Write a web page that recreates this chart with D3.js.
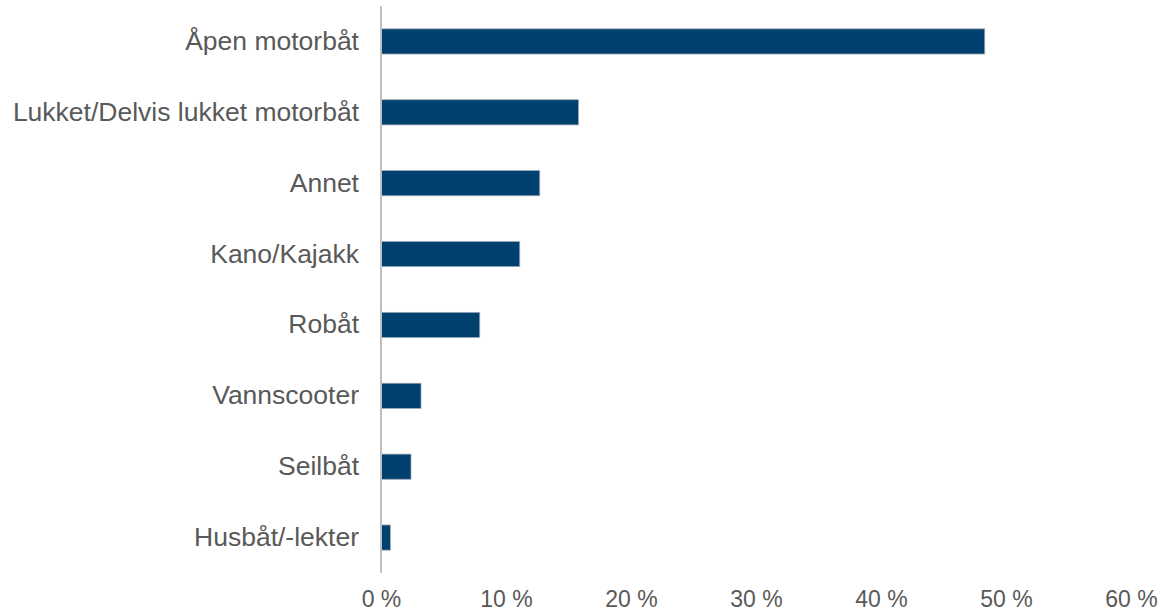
<!DOCTYPE html>
<html>
<head>
<meta charset="utf-8">
<script src="https://cdn.jsdelivr.net/npm/d3@7"></script>
<style>
  html, body { margin: 0; padding: 0; background: #fff; }
  svg { display: block; }
  text { font-family: "Liberation Sans", Arial, sans-serif; fill: #595959; }
</style>
</head>
<body>
<script>
const categories = ["Åpen motorbåt", "Lukket/Delvis lukket motorbåt", "Annet", "Kano/Kajakk", "Robåt", "Vannscooter", "Seilbåt", "Husbåt/-lekter"];
const values = [48.3, 15.8, 12.7, 11.1, 7.9, 3.2, 2.4, 0.75];
const tickValues = [0, 10, 20, 30, 40, 50, 60];

const W = 1173, H = 613;
const svg = d3.select("body").append("svg").attr("width", W).attr("height", H);

const x = d3.scaleLinear().domain([0, 60]).range([381, 1131]);
const y = d3.scaleBand().domain(categories).range([6, 573]).paddingInner(0.645).paddingOuter(0.3225);

// bars
svg.append("g").selectAll("rect").data(values).join("rect")
  .attr("x", x(0))
  .attr("y", (d, i) => y(categories[i]))
  .attr("width", d => x(d) - x(0))
  .attr("height", y.bandwidth())
  .attr("fill", "#00416f")
  .attr("stroke", "#9aaabb")
  .attr("stroke-width", 0.8);

// category labels
const yAxis = d3.axisLeft(y).tickSize(0).tickPadding(22);
const gy = svg.append("g").attr("transform", `translate(${x(0)},0)`).call(yAxis);
gy.select(".domain").remove();
gy.selectAll("text").style("font-size", "26.5px").attr("fill", "#595959")
  .style("font-family", '"Liberation Sans", Arial, sans-serif');

// vertical axis line
svg.append("line")
  .attr("x1", x(0)).attr("x2", x(0))
  .attr("y1", 6).attr("y2", 573)
  .attr("stroke", "#bfbfbf").attr("stroke-width", 2);

// x tick labels
const xAxis = d3.axisBottom(x).tickValues(tickValues).tickSize(0).tickPadding(0)
  .tickFormat(d => d + " %");
const gx = svg.append("g").attr("transform", `translate(0,591)`).call(xAxis);
gx.select(".domain").remove();
gx.selectAll("text").style("font-size", "23px").attr("fill", "#595959")
  .style("font-family", '"Liberation Sans", Arial, sans-serif');
</script>
</body>
</html>
